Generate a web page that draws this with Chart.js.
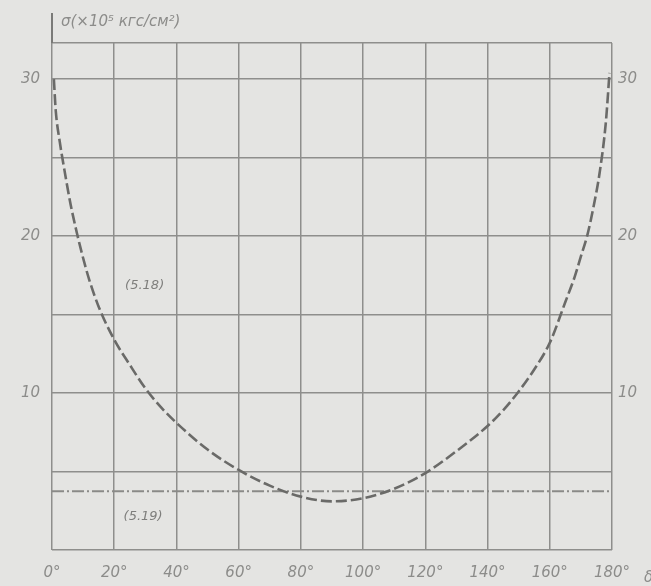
<!DOCTYPE html>
<html>
<head>
<meta charset="utf-8">
<script src="https://cdn.jsdelivr.net/npm/chart.js@4.4.0/dist/chart.umd.min.js"></script>
<style>
  html, body { margin: 0; padding: 0; background: #e4e4e2; }
  #wrap { width: 651px; height: 586px; }
</style>
</head>
<body>
<div id="wrap"><canvas id="chart"></canvas></div>
<script>
// --- DONNÉES ---
const angles518 = [0.6, 1.2, 2.5, 4, 6, 8, 10, 12, 15, 20, 25, 30, 35, 40, 50, 60, 70, 80, 90, 100, 110, 120, 130, 140, 145, 150, 155, 160, 165, 168, 170, 172, 174, 176, 178, 179.2];
const sigma518 = [30, 28, 26, 24.2, 22, 20.2, 18.6, 17.2, 15.5, 13.4, 11.8, 10.3, 9.1, 8.1, 6.4, 5.1, 4.1, 3.4, 3.1, 3.3, 3.9, 4.9, 6.3, 7.9, 8.9, 10.1, 11.5, 13.2, 15.8, 17.4, 18.7, 20.0, 21.8, 24.0, 27.2, 30.4];
const angles519 = [0, 180];
const sigma519 = [3.75, 3.75];
const xTicks = [0, 20, 40, 60, 80, 100, 120, 140, 160, 180];
const yLabels = [10, 20, 30];
const yTitle = 'σ(×10⁵ кгс/см²)';
const xSymbol = 'δ';

const inkGray = '#8c8c8a';
const tickFont = { family: 'DejaVu Sans', style: 'italic', size: 15 };

// --- TEXTES DESSINÉS À LA MAIN ---
const annotations = {
  id: 'annotations',
  afterDraw(chart) {
    const { ctx, chartArea, scales } = chart;
    ctx.save();
    // prolongement de l'axe vertical vers le titre
    ctx.strokeStyle = '#7a7a78';
    ctx.lineWidth = 2;
    ctx.beginPath();
    ctx.moveTo(chartArea.left, chartArea.top);
    ctx.lineTo(chartArea.left, chartArea.top - 30);
    ctx.stroke();

    ctx.fillStyle = inkGray;
    ctx.font = 'italic 15px DejaVu Sans';
    ctx.textBaseline = 'alphabetic';
    ctx.fillText(yTitle, chartArea.left + 9, chartArea.top - 17);

    ctx.fillStyle = '#7e7e7c';
    ctx.font = 'italic 13px DejaVu Sans';
    ctx.fillText('(5.18)', scales.x.getPixelForValue(23.5), scales.y.getPixelForValue(16.6));
    ctx.fillText('(5.19)', scales.x.getPixelForValue(23), scales.y.getPixelForValue(1.9));

    ctx.fillStyle = inkGray;
    ctx.font = 'italic 15px DejaVu Sans';
    ctx.textAlign = 'left';
    ctx.fillText(xSymbol, chartArea.right + 32, chartArea.bottom + 32);
    ctx.restore();
  }
};

const ctx = document.getElementById('chart').getContext('2d');
new Chart(ctx, {
  type: 'line',
  data: {
    datasets: [
      {
        label: '(5.18)',
        data: angles518.map((a, i) => ({ x: a, y: sigma518[i] })),
        borderColor: '#6a6a68',
        borderWidth: 2.6,
        borderDash: [11, 4],
        pointRadius: 0,
        cubicInterpolationMode: 'monotone',
        yAxisID: 'y'
      },
      {
        label: '(5.19)',
        data: angles519.map((a, i) => ({ x: a, y: sigma519[i] })),
        borderColor: '#8a8a88',
        borderWidth: 2,
        borderDash: [12, 3, 2, 3],
        pointRadius: 0,
        yAxisID: 'y'
      }
    ]
  },
  options: {
    responsive: true,
    maintainAspectRatio: false,
    animation: false,
    layout: { padding: { top: 43 } },
    plugins: { legend: { display: false }, tooltip: { enabled: false } },
    scales: {
      x: {
        type: 'linear',
        min: 0,
        max: 180,
        afterBuildTicks: (s) => { s.ticks = xTicks.map(v => ({ value: v })); },
        afterFit: (s) => { s.height = 36; },
        grid: { color: '#8e8e8c', lineWidth: 1.5, drawTicks: false },
        border: { display: false },
        ticks: {
          color: inkGray,
          font: tickFont,
          padding: 14,
          maxRotation: 0,
          callback: (v) => v + '°'
        }
      },
      y: {
        type: 'linear',
        position: 'left',
        min: 0,
        max: 32.3,
        ticks: {
          stepSize: 5,
          color: inkGray,
          font: tickFont,
          padding: 12,
          callback: (v) => yLabels.includes(v) ? String(v) : ''
        },
        afterFit: (s) => { s.width = 52; },
        grid: { color: '#8e8e8c', lineWidth: 1.5, drawTicks: false },
        border: { display: false }
      },
      y2: {
        type: 'linear',
        position: 'right',
        min: 0,
        max: 32.3,
        ticks: {
          stepSize: 5,
          color: inkGray,
          font: tickFont,
          padding: 6,
          callback: (v) => yLabels.includes(v) ? String(v) : ''
        },
        afterFit: (s) => { s.width = 39; },
        grid: { display: false, drawTicks: false },
        border: { display: false }
      }
    }
  },
  plugins: [annotations]
});
</script>
</body>
</html>
